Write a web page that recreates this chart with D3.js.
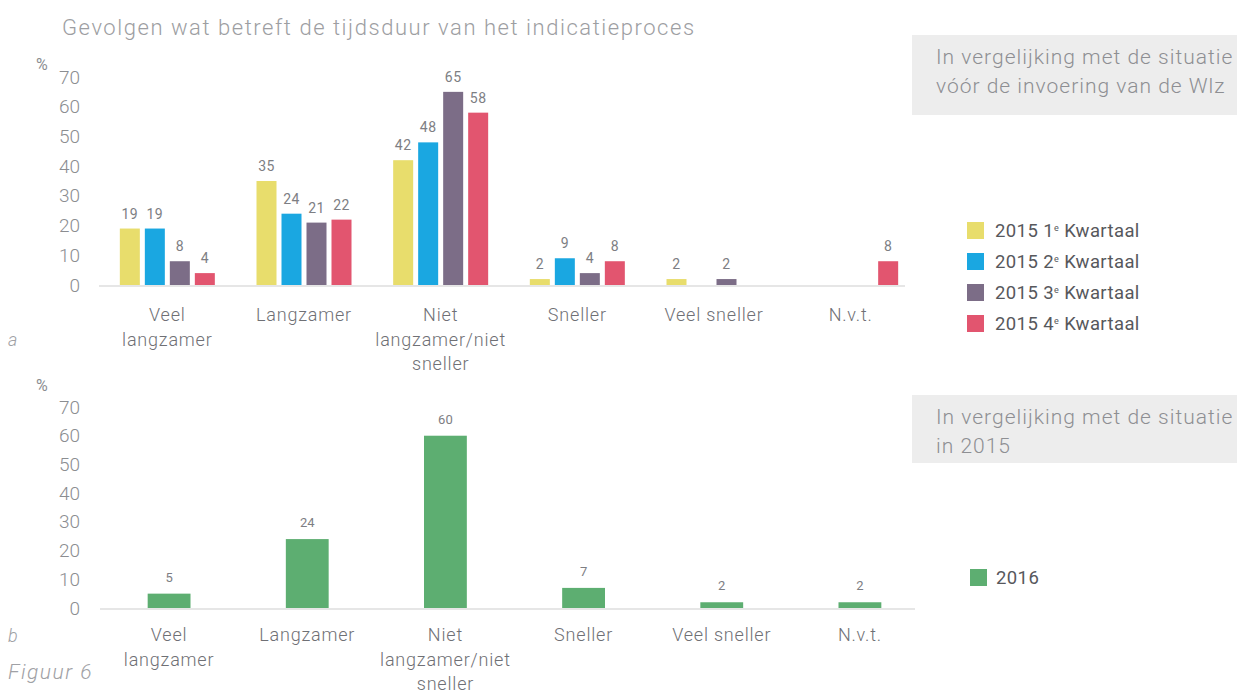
<!DOCTYPE html>
<html>
<head>
<meta charset="utf-8">
<script src="https://cdn.jsdelivr.net/npm/d3@7"></script>
<style>
  body { margin: 0; background: #fff; }
  svg { display: block; font-family: Roboto, "Open Sans", sans-serif; }
</style>
</head>
<body>
<div id="chart"></div>
<script>
// --- data ---
const categories = ['Veel langzamer', 'Langzamer', 'Niet langzamer/niet sneller', 'Sneller', 'Veel sneller', 'N.v.t.'];
const categoryLines = [['Veel', 'langzamer'], ['Langzamer'], ['Niet', 'langzamer/niet', 'sneller'], ['Sneller'], ['Veel sneller'], ['N.v.t.']];
const quarters = ['2015 1e Kwartaal', '2015 2e Kwartaal', '2015 3e Kwartaal', '2015 4e Kwartaal'];
const q1Values = [19, 35, 42, 2, 2, null];
const q2Values = [19, 24, 48, 9, null, null];
const q3Values = [8, 21, 65, 4, 2, null];
const q4Values = [4, 22, 58, 8, null, 8];
const values2016 = [5, 24, 60, 7, 2, 2];
const yTicks = [0, 10, 20, 30, 40, 50, 60, 70];

const quarterColors = ['#e8dd6c', '#1aa7e1', '#7c6d87', '#e2556f'];
const green = '#5dae71';

const width = 1237;
const height = 693;

const svg = d3.select('#chart').append('svg')
  .attr('width', width)
  .attr('height', height);

// title
svg.append('text')
  .attr('x', 62)
  .attr('y', 35)
  .attr('fill', '#9d9ea2')
  .attr('font-size', 22)
  .attr('font-weight', 300)
  .attr('letter-spacing', 1.55)
  .text('Gevolgen wat betreft de tijdsduur van het indicatieproces');

function infoBox(y, h, lines) {
  svg.append('rect')
    .attr('x', 912).attr('y', y)
    .attr('width', width - 912).attr('height', h)
    .attr('fill', '#ededed');
  svg.append('g').selectAll('text')
    .data(lines)
    .join('text')
    .attr('x', 936)
    .attr('y', (d, i) => y + 29 + i * 29)
    .attr('fill', '#8e8f93')
    .attr('font-size', 21)
    .attr('font-weight', 300)
    .attr('letter-spacing', 1)
    .text((d) => d);
}

function yAxis(yScale, x, pctY) {
  svg.append('g')
    .attr('transform', `translate(${x},0)`)
    .call(d3.axisLeft(yScale).tickValues(yTicks).tickSize(0).tickPadding(8))
    .call((g) => g.select('.domain').remove())
    .call((g) => g.selectAll('text')
      .attr('fill', '#8b8d91')
      .attr('font-size', 19)
      .attr('font-weight', 300)
      .attr('font-family', 'Roboto, sans-serif'));
  svg.append('text')
    .attr('x', 36).attr('y', pctY)
    .attr('fill', '#8b8d91')
    .attr('font-size', 16)
    .text('%');
}

function categoryLabels(xScale, y0) {
  const g = svg.append('g');
  categories.forEach((c, i) => {
    g.append('text')
      .attr('x', xScale(c) + xScale.bandwidth() / 2)
      .attr('y', y0)
      .attr('text-anchor', 'middle')
      .attr('fill', '#6f7075')
      .attr('font-size', 18)
      .attr('font-weight', 300)
      .attr('letter-spacing', 0.8)
      .selectAll('tspan')
      .data(categoryLines[i])
      .join('tspan')
      .attr('x', xScale(c) + xScale.bandwidth() / 2)
      .attr('dy', (d, j) => (j === 0 ? 0 : 24.5))
      .text((d) => d);
  });
}

function legendLabel(sel, name) {
  // "2015 1e Kwartaal" -> superscript e
  const m = name.match(/^(.*\d)e (.*)$/);
  if (!m) { sel.text(name); return; }
  sel.append('tspan').text(m[1]);
  sel.append('tspan').attr('font-size', 9).attr('dy', -6).text('e');
  sel.append('tspan').attr('dy', 6).text(' ' + m[2]);
}

// ---------- chart a ----------
const yA = d3.scaleLinear().domain([0, 70]).range([285, 77]);
const x0A = d3.scaleBand().domain(categories).range([99, 919]);
const x1A = d3.scaleBand().domain(quarters)
  .range([(x0A.bandwidth() - 95) / 2, (x0A.bandwidth() + 95) / 2])
  .paddingInner(0.2);

infoBox(35, 80, ['In vergelijking met de situatie', 'vóór de invoering van de Wlz']);
yAxis(yA, 88, 70);

svg.append('line')
  .attr('x1', 99).attr('x2', 905)
  .attr('y1', yA(0) + 1).attr('y2', yA(0) + 1)
  .attr('stroke', '#e6e6e6').attr('stroke-width', 2);

const quarterValues = [q1Values, q2Values, q3Values, q4Values];
const barsA = [];
categories.forEach((c, i) => {
  quarters.forEach((q, k) => {
    const v = quarterValues[k][i];
    if (v != null) barsA.push({ c, q, k, v });
  });
});

svg.append('g').selectAll('rect')
  .data(barsA)
  .join('rect')
  .attr('x', (d) => x0A(d.c) + x1A(d.q))
  .attr('y', (d) => yA(d.v))
  .attr('width', x1A.bandwidth())
  .attr('height', (d) => yA(0) - yA(d.v))
  .attr('fill', (d) => quarterColors[d.k]);

svg.append('g').selectAll('text')
  .data(barsA)
  .join('text')
  .attr('x', (d) => x0A(d.c) + x1A(d.q) + x1A.bandwidth() / 2)
  .attr('y', (d) => yA(d.v) - 10)
  .attr('text-anchor', 'middle')
  .attr('fill', '#7d7e83')
  .attr('font-size', 14)
  .attr('letter-spacing', 0.5)
  .text((d) => d.v);

categoryLabels(x0A, 321);

const legendA = svg.append('g').attr('transform', 'translate(967,222)');
quarters.forEach((q, k) => {
  const row = legendA.append('g').attr('transform', `translate(0,${k * 31})`);
  row.append('rect').attr('width', 17).attr('height', 17).attr('fill', quarterColors[k]);
  row.append('text')
    .attr('x', 28).attr('y', 15)
    .attr('fill', '#57585c')
    .attr('font-size', 18.5)
    .attr('letter-spacing', 0.4)
    .call(legendLabel, q);
});

svg.append('text')
  .attr('x', 8).attr('y', 346)
  .attr('fill', '#a0a1a5')
  .attr('font-size', 18)
  .attr('font-style', 'italic')
  .attr('font-weight', 300)
  .text('a');

// ---------- chart b ----------
const yB = d3.scaleLinear().domain([0, 70]).range([608, 407]);
const xB = d3.scaleBand().domain(categories).range([100, 929])
  .paddingInner(0.69).paddingOuter(0.345);

infoBox(395, 68, ['In vergelijking met de situatie', 'in 2015']);
yAxis(yB, 88, 391);

svg.append('line')
  .attr('x1', 100).attr('x2', 915)
  .attr('y1', yB(0) + 1).attr('y2', yB(0) + 1)
  .attr('stroke', '#e6e6e6').attr('stroke-width', 2);

svg.append('g').selectAll('rect')
  .data(values2016)
  .join('rect')
  .attr('x', (d, i) => xB(categories[i]))
  .attr('y', (d) => yB(d))
  .attr('width', xB.bandwidth())
  .attr('height', (d) => yB(0) - yB(d))
  .attr('fill', green);

svg.append('g').selectAll('text')
  .data(values2016)
  .join('text')
  .attr('x', (d, i) => xB(categories[i]) + xB.bandwidth() / 2)
  .attr('y', (d) => yB(d) - 12)
  .attr('text-anchor', 'middle')
  .attr('fill', '#7d7e83')
  .attr('font-size', 13)
  .text((d) => d);

const xBLabels = d3.scaleBand().domain(categories)
  .range([xB(categories[0]) + xB.bandwidth() / 2 - xB.step() / 2, xB(categories[5]) + xB.bandwidth() / 2 + xB.step() / 2]);
categoryLabels(xBLabels, 641);

const legendB = svg.append('g').attr('transform', 'translate(970,569)');
legendB.append('rect').attr('width', 17).attr('height', 17).attr('fill', green);
legendB.append('text')
  .attr('x', 26).attr('y', 15)
  .attr('fill', '#57585c')
  .attr('font-size', 18.5)
  .attr('letter-spacing', 0.4)
  .text('2016');

svg.append('text')
  .attr('x', 8).attr('y', 642)
  .attr('fill', '#a0a1a5')
  .attr('font-size', 18)
  .attr('font-style', 'italic')
  .attr('font-weight', 300)
  .text('b');

svg.append('text')
  .attr('x', 8).attr('y', 679)
  .attr('fill', '#a0a1a5')
  .attr('font-size', 21)
  .attr('font-style', 'italic')
  .attr('font-weight', 300)
  .attr('letter-spacing', 1.5)
  .text('Figuur 6');
</script>
</body>
</html>
